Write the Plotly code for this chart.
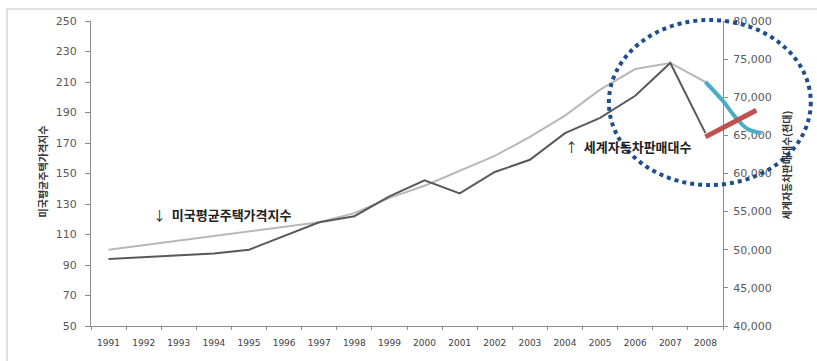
import plotly.graph_objects as go

# Years on the category axis
years = ["1991", "1992", "1993", "1994", "1995", "1996", "1997", "1998", "1999",
         "2000", "2001", "2002", "2003", "2004", "2005", "2006", "2007", "2008"]

# US average house price index (left axis)
house_price_index = [100, 103, 106, 109, 112, 115, 118, 124, 134, 142,
                     152, 161.5, 174, 188, 205, 218.5, 222.5, 210]

# World car sales, thousand units (right axis)
world_car_sales = [48800, 49050, 49250, 49500, 50000, 51800, 53600, 54400, 57000,
                   59100, 57400, 60200, 61800, 65300, 67300, 70200, 74500, 65300]

# Hand-drawn outlook strokes after 2008 (year positions on a linear axis)
house_trend_x = [2008, 2008.5, 2008.85, 2009.2, 2009.6]
house_trend_y = [210, 197.5, 187, 179.2, 176.6]
car_trend_x = [2008, 2009.45]
car_trend_y = [64800, 68300]

left_ticks = [50, 70, 90, 110, 130, 150, 170, 190, 210, 230, 250]
right_ticks = [40000, 45000, 50000, 55000, 60000, 65000, 70000, 75000, 80000]

W, H = 817, 361
L, R, T, B = 91, 0, 21, 35
plot_w = W - L - R
axis_right_px = 723
x_frac = (axis_right_px - L) / plot_w
px_per_year = (axis_right_px - L) / len(years)
x2_range = [1990.5, 1990.5 + plot_w / px_per_year]

AXIS = "#8c8c8c"
TICKFONT = dict(family="DejaVu Sans", size=11, color="#595959")

fig = go.Figure()

fig.add_trace(go.Scatter(
    x=years, y=house_price_index, mode="lines", name="미국평균주택가격지수",
    line=dict(color="#b8b8b8", width=2), xaxis="x", yaxis="y"))
fig.add_trace(go.Scatter(
    x=years, y=world_car_sales, mode="lines", name="세계자동차판매대수",
    line=dict(color="#595959", width=2), xaxis="x", yaxis="y2"))

fig.add_trace(go.Scatter(
    x=house_trend_x, y=house_trend_y, mode="lines",
    line=dict(color="#4bacc6", width=4, shape="spline"), xaxis="x2", yaxis="y"))
fig.add_trace(go.Scatter(
    x=car_trend_x, y=car_trend_y, mode="lines",
    line=dict(color="#c0504d", width=5), xaxis="x2", yaxis="y2"))

fig.update_layout(
    template="none",
    width=W, height=H,
    margin=dict(l=L, r=R, t=T, b=B, autoexpand=False),
    paper_bgcolor="white", plot_bgcolor="rgba(0,0,0,0)",
    showlegend=False,
    xaxis=dict(
        domain=[0, x_frac], type="category", anchor="y",
        range=[-0.5, len(years) - 0.5], automargin=False,
        showline=True, linecolor=AXIS, linewidth=1,
        ticks="outside", tickson="boundaries", ticklen=3, tickcolor=AXIS,
        showgrid=False, zeroline=False,
        tickfont=dict(family="DejaVu Sans", size=9, color="#404040"),
        ticklabelstandoff=8,
    ),
    xaxis2=dict(domain=[0, 1], range=x2_range, anchor="y", visible=False,
                automargin=False),
    yaxis=dict(
        range=[50, 250], tickvals=left_ticks, automargin=False,
        showline=True, linecolor=AXIS, linewidth=1,
        ticks="outside", ticklen=5, tickcolor=AXIS,
        showgrid=False, zeroline=False, tickfont=TICKFONT,
        ticklabelstandoff=6,
    ),
    yaxis2=dict(
        range=[40000, 80000], tickvals=right_ticks, tickformat=",d",
        overlaying="y", side="right", anchor="x", automargin=False,
        showline=True, linecolor=AXIS, linewidth=1,
        ticks="outside", ticklen=4, tickcolor=AXIS,
        showgrid=False, zeroline=False, tickfont=TICKFONT,
        ticklabelstandoff=3,
    ),
)

def px_x(p):
    return (p - L) / plot_w

def px_y(p):
    return (H - B - p) / (H - T - B)

# Outer frame
fig.add_shape(type="rect", xref="paper", yref="paper",
              x0=px_x(7), x1=px_x(830), y0=px_y(9), y1=px_y(380),
              line=dict(color="#c0c0c0", width=1), layer="below")

# Dotted ellipse around the 2007-2008 turn
fig.add_shape(type="circle", xref="x2", yref="paper",
              x0=2005.25, x1=2011.0, y0=px_y(185), y1=px_y(20),
              line=dict(color="#1f4e8c", width=4, dash="dot"))

KFONT = "Noto Sans CJK KR"

fig.add_annotation(xref="paper", yref="paper", x=px_x(33), y=px_y(172),
                   text="<b>미국평균주택가격지수</b>", textangle=-90, showarrow=False,
                   font=dict(family=KFONT, size=10, color="#333333"))
fig.add_annotation(xref="paper", yref="paper", x=px_x(795), y=px_y(165),
                   text="<b>세계자동차판매대수(천대)</b>", textangle=-90, showarrow=False,
                   font=dict(family=KFONT, size=10, color="#333333"))

fig.add_annotation(xref="paper", yref="paper", x=px_x(151), y=px_y(214),
                   xanchor="left", text="↓  <b>미국평균주택가격지수</b>", showarrow=False,
                   font=dict(family=KFONT, size=13, color="#222222"))
fig.add_annotation(xref="paper", yref="paper", x=px_x(563), y=px_y(146),
                   xanchor="left", text="↑  <b>세계자동차판매대수</b>", showarrow=False,
                   font=dict(family=KFONT, size=13, color="#222222"))

fig.write_html("out.html")
